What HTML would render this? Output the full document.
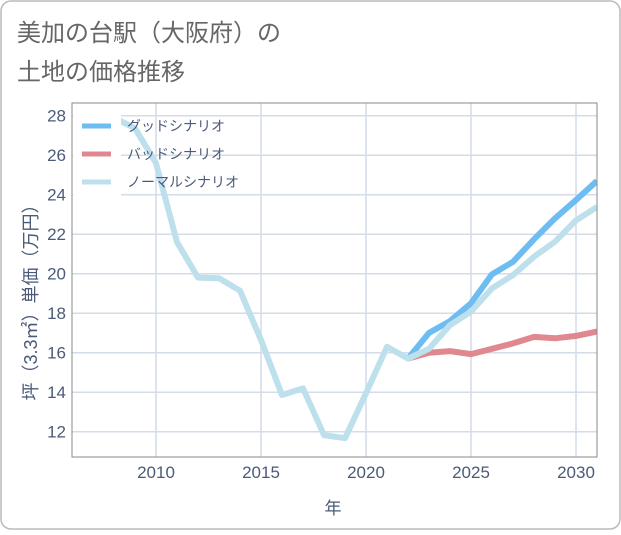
<!DOCTYPE html>
<html><head><meta charset="utf-8"><style>
body{margin:0;background:#fff;}
svg text{font-family:"Liberation Sans","Noto Sans CJK JP",sans-serif;}
</style></head><body>
<svg id="chart" width="621" height="530" xmlns="http://www.w3.org/2000/svg">
<rect x="1" y="1" width="619" height="528" rx="10" fill="#fff" stroke="#bbb" stroke-width="1.5"/>
<text x="17" y="41" font-size="24" fill="#666">美加の台駅（大阪府）の</text>
<text x="17" y="80" font-size="24" fill="#666">土地の価格推移</text>
<g id="grid"></g>
<g id="lines"></g>
<rect x="72" y="103" width="525" height="354" fill="none" stroke="#8a8a8a" stroke-width="1"/>
<g id="legend"></g>
<text transform="translate(37,298) rotate(-90)" text-anchor="middle" font-size="18" fill="#4a5a78">坪（3.3㎡）単価（万円）</text>
<text x="333" y="514" text-anchor="middle" font-size="17" fill="#4a5a78">年</text>
</svg>
<script>
const years=[2008,2009,2010,2011,2012,2013,2014,2015,2016,2017,2018,2019,2020,2021,2022,2023,2024,2025,2026,2027,2028,2029,2030,2031];
const normalVals=[27.9,27.36,25.6,21.6,19.8,19.77,19.14,16.65,13.86,14.2,11.83,11.67,13.95,16.3,15.7,16.2,17.4,18.08,19.26,19.93,20.86,21.62,22.7,23.38];
const futureYears=[2022,2023,2024,2025,2026,2027,2028,2029,2030,2031];
const goodVals=[15.7,17.0,17.6,18.5,19.97,20.6,21.74,22.8,23.73,24.7];
const badVals=[15.7,16.0,16.08,15.93,16.2,16.47,16.8,16.73,16.85,17.07];
const xTicks=[2010,2015,2020,2025,2030];
const yTicks=[12,14,16,18,20,22,24,26,28];
const legendLabels=["グッドシナリオ","バッドシナリオ","ノーマルシナリオ"];
const NS="http://www.w3.org/2000/svg";
const X0=72,X1=597,Y0=103,Y1=457;
function xs(v){return 156+(v-2010)*21;}
function ys(v){return 115.7+(28-v)*19.75;}
function mk(t,a,p){const e=document.createElementNS(NS,t);for(const k in a)e.setAttribute(k,a[k]);p.appendChild(e);return e;}
const grid=document.getElementById('grid');
xTicks.forEach(t=>{
 const l=mk('line',{x1:xs(t),x2:xs(t),y1:Y0,y2:Y1,stroke:'#d3dce8','stroke-width':1.5},grid);
 
 
 const tx=mk('text',{x:xs(t),y:478,'text-anchor':'middle','font-size':17,fill:'#4a5a78'},grid);
 tx.textContent=t;
 
 
});
yTicks.forEach(t=>{
 const l=mk('line',{x1:X0,x2:X1,y1:ys(t),y2:ys(t),stroke:'#d3dce8','stroke-width':1.5},grid);
 
 
 const tx=mk('text',{x:66,y:ys(t)+6,'text-anchor':'end','font-size':17,fill:'#4a5a78'},grid);
 tx.textContent=t;
 
 
});
const lines=document.getElementById('lines');
const cp=mk('clipPath',{id:'clip'},lines);
mk('rect',{x:X0,y:Y0,width:X1-X0,height:Y1-Y0},cp);
function path(xv,yv,color,name){
 const d=xv.map((x,i)=>(i?'L':'M')+xs(x).toFixed(1)+','+ys(yv[i]).toFixed(1)).join('');
 const p=mk('path',{d:d,fill:'none',stroke:color,'stroke-width':6,'stroke-linejoin':'round','clip-path':'url(#clip)'},lines);
 
 
}
path(futureYears,goodVals,'#6dbdf2','good-scenario-line');
path(futureYears,badVals,'#e08890','bad-scenario-line');
path(years,normalVals,'#bde0ec','normal-scenario-line');
const lg=document.getElementById('legend');
const bg=mk('rect',{x:73,y:104,width:48,height:92,fill:'#fff'},lg);


const cols=['#6dbdf2','#e08890','#bde0ec'];
legendLabels.forEach((lab,i)=>{
 const y=126+i*28;
 const ln=mk('line',{x1:82,x2:111,y1:y,y2:y,stroke:cols[i],'stroke-width':5},lg);
 
 
 const t=mk('text',{x:127,y:y+5,'font-size':14,fill:'#4a5a78'},lg);
 t.textContent=lab;
 
 
});
</script>
</body></html>
